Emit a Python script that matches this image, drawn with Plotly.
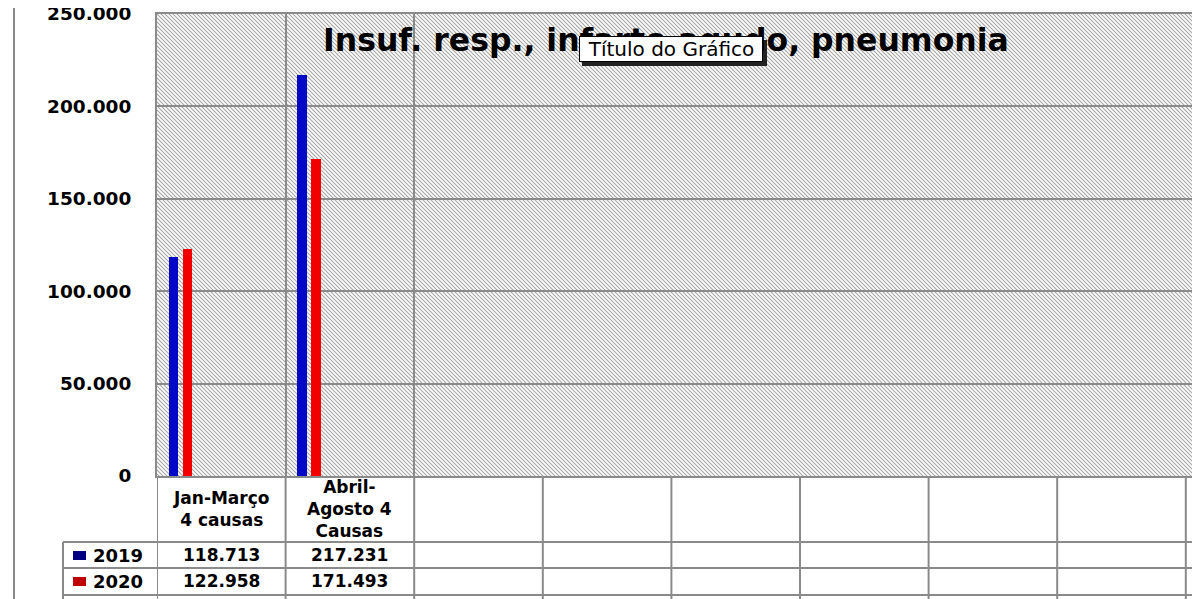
import base64
import plotly.graph_objects as go

# data (table below the plot)
categories = ['Jan-Março<br>4 causas', 'Abril-<br>Agosto 4<br>Causas']
series_names = ['2019', '2020']
values_2019 = [118713, 217231]
values_2020 = [122958, 171493]
y_ticks = [0, 50000, 100000, 150000, 200000, 250000]

W, H = 1200, 599
OFF = 8  # page body margin shifts the figure
PLOT_L, PLOT_T, PLOT_B = 157, 14, 476
CAT_W = 128.6
n_cols = 9
grid = '#8a8a8a'
font = 'DejaVu Sans'

def px(x):
    return (x - OFF) / W

def py(y):
    return (H - (y - OFF)) / H

def fmt(v):
    return '{:,}'.format(v).replace(',', '.')

# hatched plot background as an svg tile
pw, ph = W - PLOT_L + OFF, PLOT_B - PLOT_T
svg = ('<svg xmlns="http://www.w3.org/2000/svg" width="%d" height="%d">'
       '<defs><pattern id="p" width="4" height="4" patternUnits="userSpaceOnUse">'
       '<path d="M-1,-1 L5,5 M-1,3 L1,5 M3,-1 L5,1" stroke="#a4a4a4" stroke-width="1.1"/>'
       '</pattern></defs><rect width="100%%" height="100%%" fill="#ffffff"/>'
       '<rect width="100%%" height="100%%" fill="url(#p)"/></svg>') % (pw, ph)
hatch = 'data:image/svg+xml;base64,' + base64.b64encode(svg.encode()).decode()

fig = go.Figure()
fig.add_trace(go.Bar(x=categories, y=values_2019, name=series_names[0],
                     marker=dict(color='#0008c8', line=dict(width=0)),
                     width=0.074, offset=-0.408))
fig.add_trace(go.Bar(x=categories, y=values_2020, name=series_names[1],
                     marker=dict(color='#f20000', line=dict(width=0)),
                     width=0.074, offset=-0.300))

x_hi = -0.5 + (W + OFF - PLOT_L) / CAT_W

fig.update_layout(
    width=W, height=H,
    margin=dict(l=0, r=0, t=0, b=0),
    paper_bgcolor='white', plot_bgcolor='rgba(0,0,0,0)',
    showlegend=False, separators=',.',
    font=dict(family=font, color='black'),
    bargap=0,
    xaxis=dict(domain=[px(PLOT_L), 1], range=[-0.5, x_hi], type='category',
               categoryorder='array', categoryarray=categories,
               tickson='boundaries', showgrid=True, gridcolor=grid, gridwidth=2,
               showticklabels=False, ticks='', showline=True, linecolor=grid,
               linewidth=2, mirror=True, zeroline=False),
    yaxis=dict(domain=[py(PLOT_B), py(PLOT_T)], range=[0, 250000],
               tickvals=y_ticks, tickformat=',d', showgrid=True,
               gridcolor=grid, gridwidth=2, showline=True, linecolor=grid,
               linewidth=2, ticks='', ticklabelstandoff=20, automargin=False,
               ticklabeloverflow='allow',
               tickfont=dict(family=font, size=18.5, weight='bold'), zeroline=False),
    images=[dict(source=hatch, xref='x domain', yref='y domain', x=0, y=1,
                 sizex=1, sizey=1, sizing='stretch', layer='below',
                 xanchor='left', yanchor='top')],
)

shapes = []
line = dict(color=grid, width=2)
# outer chart border
shapes.append(dict(type='line', xref='paper', yref='paper', x0=px(14), x1=1,
                   y0=py(3), y1=py(3), line=line))
shapes.append(dict(type='line', xref='paper', yref='paper', x0=px(14), x1=px(14),
                   y0=py(3), y1=0, line=line))
# data table rows
for yy in [542, 568, 595]:
    shapes.append(dict(type='line', xref='paper', yref='paper', x0=px(63), x1=1,
                       y0=py(yy), y1=py(yy), line=line))
shapes.append(dict(type='line', xref='paper', yref='paper', x0=px(63), x1=px(63),
                   y0=py(542), y1=0, line=line))
# data table columns
for k in range(n_cols):
    shapes.append(dict(type='line', xref='x', yref='paper', x0=k - 0.5, x1=k - 0.5,
                       y0=py(PLOT_B), y1=0, line=line))
# legend keys
for yy, c in [(555.5, '#000080'), (581.5, '#c00000')]:
    shapes.append(dict(type='rect', xref='paper', yref='paper', x0=px(73), x1=px(86),
                       y0=py(yy - 4.5), y1=py(yy + 4.5), fillcolor=c, line=dict(width=0)))
# tooltip shadow
shapes.append(dict(type='rect', xref='paper', yref='paper', x0=px(582), x1=px(767),
                   y0=py(40), y1=py(66), fillcolor='#222222', line=dict(width=0)))
fig.update_layout(shapes=shapes)

ann = []
ann.append(dict(text='Insuf. resp., infarto agudo, pneumonia', xref='paper', yref='paper',
                x=px(321), y=py(40), xanchor='left', yanchor='middle', showarrow=False,
                font=dict(family=font, size=31.5, weight='bold')))
ann.append(dict(text='Título do Gráfico', xref='paper', yref='paper',
                x=px(671), y=py(49.5), xanchor='center', yanchor='middle', showarrow=False,
                font=dict(family=font, size=20), bgcolor='white', bordercolor='black',
                borderwidth=1, borderpad=0, width=182))
for cat in categories:
    ann.append(dict(text='<b>' + cat + '</b>', x=cat, xref='x', yref='paper', y=py(509),
                    xanchor='center', yanchor='middle', showarrow=False,
                    font=dict(family=font, size=17)))
for name, vals, yy in [(series_names[0], values_2019, 555), (series_names[1], values_2020, 581)]:
    ann.append(dict(text='<b>' + name + '</b>', xref='paper', yref='paper', x=px(91), y=py(yy),
                    xanchor='left', yanchor='middle', showarrow=False,
                    font=dict(family=font, size=18)))
    for cat, v in zip(categories, vals):
        ann.append(dict(text='<b>' + fmt(v) + '</b>', x=cat, xref='x', yref='paper', y=py(yy),
                        xanchor='center', yanchor='middle', showarrow=False,
                        font=dict(family=font, size=17)))
fig.update_layout(annotations=ann)

fig.write_html('out.html')
